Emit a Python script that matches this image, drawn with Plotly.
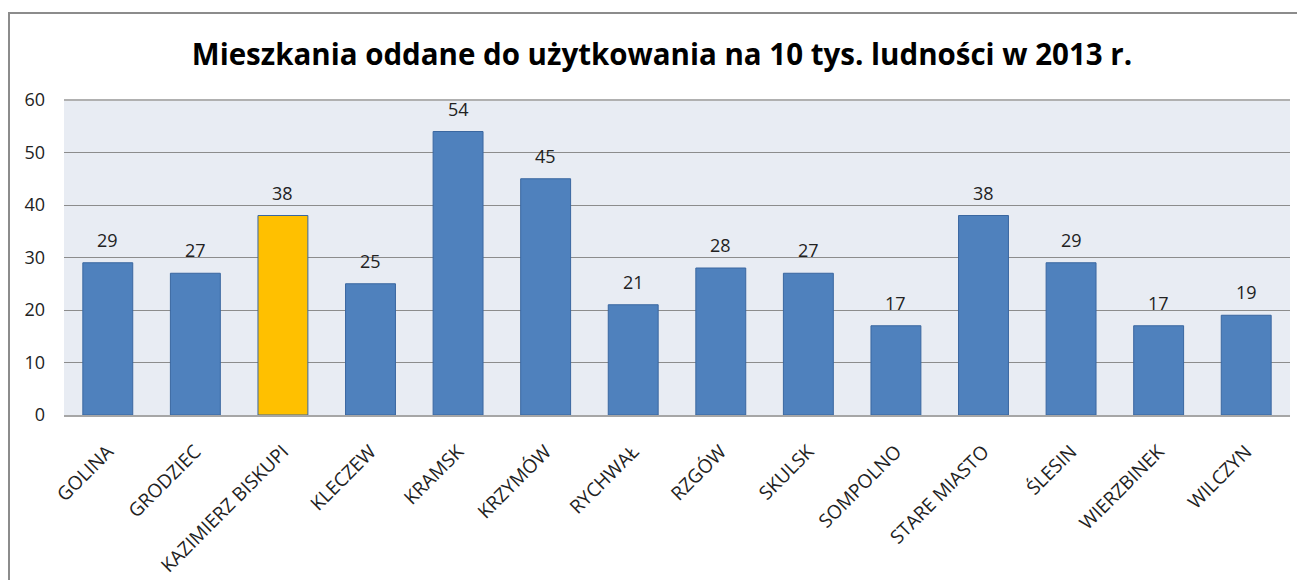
import plotly.graph_objects as go

categories = ["GOLINA", "GRODZIEC", "KAZIMIERZ BISKUPI", "KLECZEW", "KRAMSK", "KRZYMÓW",
              "RYCHWAŁ", "RZGÓW", "SKULSK", "SOMPOLNO", "STARE MIASTO", "ŚLESIN",
              "WIERZBINEK", "WILCZYN"]
values = [29, 27, 38, 25, 54, 45, 21, 28, 27, 17, 38, 29, 17, 19]
highlight = "KAZIMIERZ BISKUPI"
y_ticks = [0, 10, 20, 30, 40, 50, 60]
title = "Mieszkania oddane do użytkowania na 10 tys. ludności w 2013 r."

colors = ["#FFC000" if c == highlight else "#4F81BD" for c in categories]
FONT = "Open Sans, Liberation Sans, sans-serif"

# page body has an 8px margin; the figure is sized to fit the 1305x580 window
W, H = 1297, 572
L, R, T, B = 56, 15, 92, 165
pw, ph = W - L - R, H - T - B

fig = go.Figure(go.Bar(
    x=categories, y=values,
    marker=dict(color=colors, line=dict(color="#3A67A0", width=1)),
    hoverinfo="x+y",
))

for c, v in zip(categories, values):
    fig.add_annotation(x=c, y=v, text=str(v), showarrow=False, yanchor="bottom", yshift=9,
                       font=dict(family=FONT, size=18, color="#222"))

fig.update_layout(
    width=W, height=H,
    margin=dict(l=L, r=R, t=T, b=B, autoexpand=False),
    paper_bgcolor="white",
    plot_bgcolor="#E8ECF3",
    bargap=0.43,
    showlegend=False,
    title=dict(text="<b>" + title + "</b>", x=654 / W, xref="container", xanchor="center",
               y=1 - 47 / H, yanchor="middle",
               font=dict(family=FONT, size=29.5, color="black")),
    font=dict(family=FONT, size=16, color="#222"),
    xaxis=dict(tickangle=-45, showline=True, linecolor="#A6A6A6", linewidth=2, automargin=False,
               ticks="", tickfont=dict(size=19), showgrid=False, ticklabelstandoff=16),
    yaxis=dict(range=[0, 60], tickvals=y_ticks, showgrid=True, gridcolor="#8C8C8C", gridwidth=1,
               automargin=False,
               showline=False, zeroline=False, ticks="", tickfont=dict(size=18), ticklabelstandoff=18),
    shapes=[
        dict(type="rect", xref="paper", yref="paper",
             x0=(1 - L) / pw, x1=1.2, y0=-1, y1=(T + ph - 5) / ph,
             line=dict(color="#8C8C8C", width=2), fillcolor="rgba(0,0,0,0)", layer="below"),
        dict(type="line", xref="paper", yref="paper", x0=0, x1=1, y0=1, y1=1,
             line=dict(color="#B0B0B0", width=2)),
    ],
)

fig.write_html("out.html")
